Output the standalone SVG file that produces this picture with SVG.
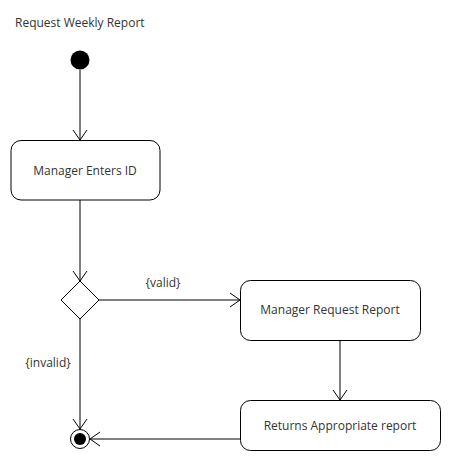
<svg xmlns="http://www.w3.org/2000/svg" width="450" height="470" viewBox="0 0 450 470">
<defs>
<marker id="arr" markerWidth="12" markerHeight="16" refX="11" refY="8" orient="auto" markerUnits="userSpaceOnUse">
<path d="M1,1 L11,8 L1,15" fill="none" stroke="#000" stroke-width="1"/>
</marker>
<style>
text{font-family:"Open Sans","Liberation Sans",sans-serif;font-size:12px;fill:#333}
.box{fill:#fff;stroke:#000;stroke-width:1}
.c{stroke:#000;stroke-width:1;fill:none}
</style>
</defs>
<rect width="450" height="470" fill="#fff"/>
<text x="15" y="27">Request Weekly Report</text>
<g id="start"><circle cx="80" cy="60" r="9.5" fill="#000"/></g>
<g id="enterId"><rect class="box" x="11" y="140.5" width="149" height="59.5" rx="10"/><text x="85" y="175" text-anchor="middle">Manager Enters ID</text></g>
<g id="decision"><path class="box" d="M80,281 L99,300 L80,319 L61,300 Z"/></g>
<g id="requestReport"><rect class="box" x="240.5" y="280.5" width="180" height="60" rx="10"/><text x="330" y="314" text-anchor="middle">Manager Request Report</text></g>
<g id="returnsReport"><rect class="box" x="240.5" y="400.5" width="200" height="50" rx="10"/><text x="340" y="430" text-anchor="middle">Returns Appropriate report</text></g>
<g id="end"><circle cx="80" cy="439" r="9.5" fill="#fff" stroke="#000" stroke-width="1"/><circle cx="80" cy="439" r="6" fill="#000"/></g>
<g id="connectors">
<path class="c" d="M80,70 L80,140" marker-end="url(#arr)"/>
<path class="c" d="M80,200 L80,281" marker-end="url(#arr)"/>
<path class="c" d="M99,300 L240,300" marker-end="url(#arr)"/>
<path class="c" d="M340,341 L340,400" marker-end="url(#arr)"/>
<path class="c" d="M80,319 L80,429" marker-end="url(#arr)"/>
<path class="c" d="M240,439 L90,439" marker-end="url(#arr)"/>
<text x="163" y="287" text-anchor="middle">{valid}</text>
<text x="48" y="367" text-anchor="middle">{invalid}</text>
</g>
</svg>
